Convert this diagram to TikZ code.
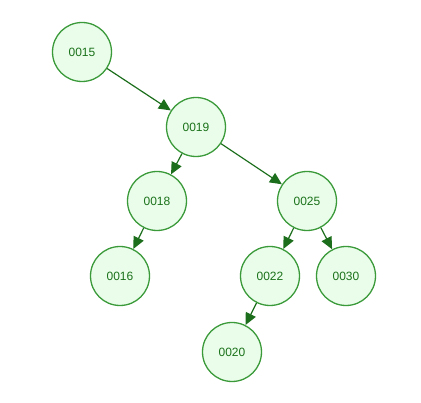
\documentclass[tikz,border=0pt]{standalone}
\usepackage{fontspec}
\setmainfont{Liberation Sans}
\usetikzlibrary{arrows.meta}
\definecolor{keyline}{HTML}{3A9A3A}
\definecolor{keyfill}{HTML}{EAFCEA}
\definecolor{keytext}{HTML}{1A721A}
\definecolor{keyarrow}{HTML}{1C6E1C}
\tikzset{
  key/.style={circle, draw=keyline, fill=keyfill, line width=1.3pt,
    minimum size=59pt, inner sep=0pt, text=keytext, font=\fontsize{12}{14}\selectfont},
  link/.style={draw=keyarrow, line width=1.2pt,
    -{Triangle[length=12pt, width=11pt]}}
}
\begin{document}
\begin{tikzpicture}[x=1pt, y=-1pt]
    \useasboundingbox (0,0) rectangle (421,403);

    \node[key] (k15) at (82,52)  {0015};
    \node[key] (k19) at (196,127) {0019};
    \node[key] (k18) at (157,201) {0018};
    \node[key] (k25) at (307,201) {0025};
    \node[key] (k16) at (120,276) {0016};
    \node[key] (k22) at (270,276) {0022};
    \node[key] (k30) at (346,276) {0030};
    \node[key] (k20) at (232,352) {0020};

    \foreach \a/\b in {k15/k19, k19/k18, k19/k25, k18/k16,
                       k25/k22, k25/k30, k22/k20} {
      \draw[link] (\a) -- (\b);
    }
  \end{tikzpicture}
\end{document}
